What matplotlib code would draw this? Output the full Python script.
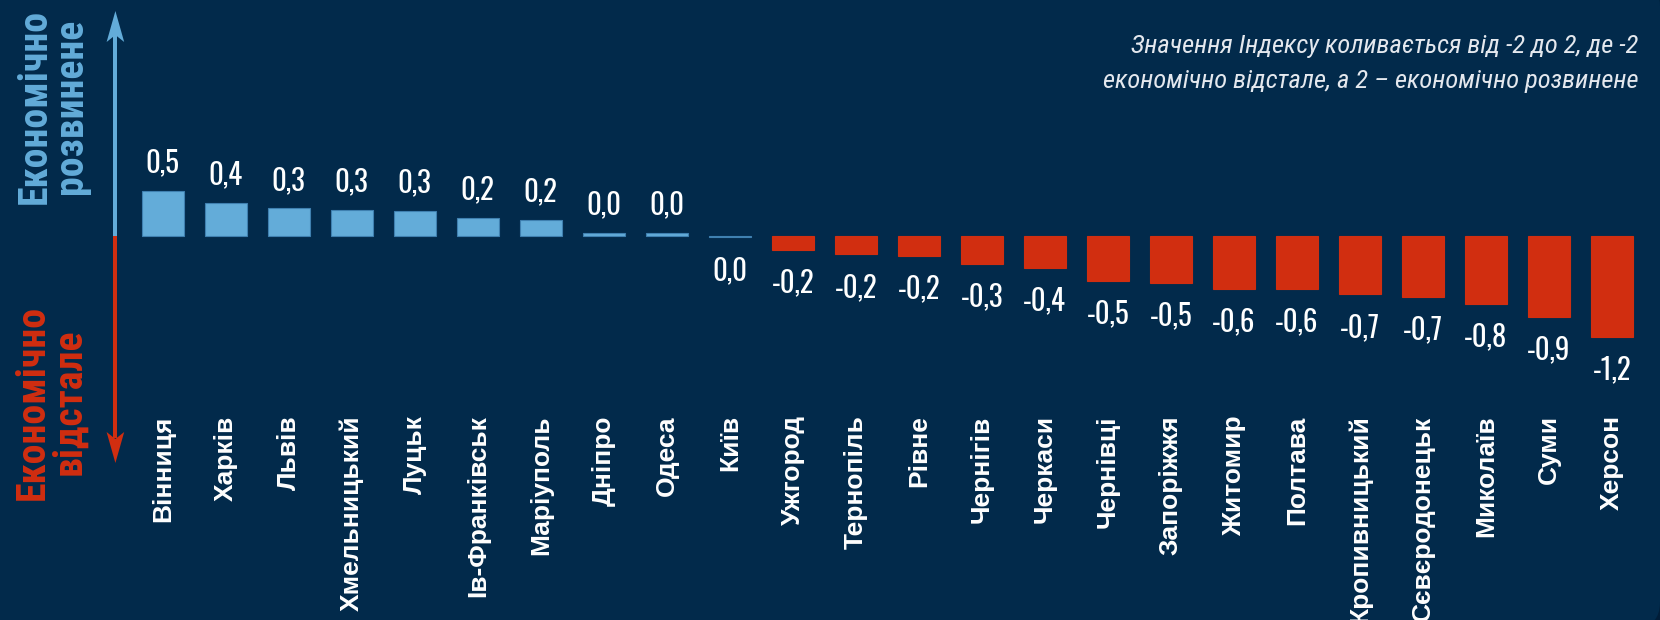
import matplotlib
matplotlib.use("Agg")
import matplotlib.pyplot as plt
from matplotlib import font_manager
from matplotlib.patches import Polygon, Rectangle, FancyBboxPatch

# ---------------- data ----------------
regions = ['Вінниця', 'Харків', 'Львів', 'Хмельницький', 'Луцьк', 'Ів-Франківськ',
           'Маріуполь', 'Дніпро', 'Одеса', 'Київ', 'Ужгород', 'Тернопіль', 'Рівне',
           'Чернігів', 'Черкаси', 'Чернівці', 'Запоріжжя', 'Житомир', 'Полтава',
           'Кропивницький', 'Сєвєродонецьк', 'Миколаїв', 'Суми', 'Херсон']
values = [0.52, 0.38, 0.32, 0.305, 0.29, 0.21, 0.185, 0.04, 0.03, -0.015,
          -0.16, -0.21, -0.23, -0.325, -0.37, -0.52, -0.545, -0.615, -0.615,
          -0.68, -0.705, -0.785, -0.94, -1.17]
note_lines = ['Значення Індексу коливається від -2 до 2, де -2',
              'економічно відстале, а 2 – економічно розвинене']
top_label = 'Економічно\nрозвинене'
bottom_label = 'Економічно\nвідстале'

# ---------------- style ----------------
BG = '#022a4b'
OUTER = '#011d38'
BLUE = '#63acd9'
BLUE_EDGE = '#3f80b0'
RED = '#d12e10'
WHITE = '#ffffff'
NOTE = '#e4e8ee'

names = {f.name for f in font_manager.fontManager.ttflist}


def pick(cands):
    for c in cands:
        if c in names:
            return c
    return 'DejaVu Sans'


VALUE_FONT = pick(['Oswald', 'Bebas Neue', 'Roboto Condensed', 'Fira Sans Extra Condensed',
                   'Fira Sans Condensed'])
SIDE_FONT = pick(['Roboto Condensed', 'PT Sans Narrow', 'Arimo', 'Fira Sans Condensed', 'Oswald'])
NOTE_FONT = pick(['Roboto Condensed', 'PT Sans Narrow', 'Fira Sans Condensed', 'Open Sans'])
SANS = pick(['Liberation Sans', 'Arimo', 'DejaVu Sans'])

W, H = 1660, 620
fig = plt.figure(figsize=(W / 100, H / 100), dpi=100, facecolor=OUTER)
renderer = fig.canvas.get_renderer()


def fit_size(text, family, weight, style, target_px, base=20.0):
    t = fig.text(0, 0, text, fontsize=base, family=family, fontweight=weight, style=style)
    w = t.get_window_extent(renderer=renderer).width
    t.remove()
    return base * target_px / w


# overlay in pixel coordinates (top-left origin), behind the bars
ov = fig.add_axes([0, 0, 1, 1])
ov.set_xlim(0, W)
ov.set_ylim(H, 0)
ov.axis('off')
ov.add_patch(FancyBboxPatch((-60, -20), W + 60, H + 28,
                            boxstyle='round,pad=0,rounding_size=26',
                            facecolor=BG, edgecolor='none'))

# main axes: occupies top 400 px, zero line at 236 px from top, 86 px per unit
ax_top_px, ax_bot_px, zero_px, ppu = 0, 400, 236, 86.0
ax = fig.add_axes([0, 1 - ax_bot_px / H, 1, (ax_bot_px - ax_top_px) / H])
ax.set_facecolor('none')
ax.set_ylim(-(ax_bot_px - zero_px) / ppu, (zero_px - ax_top_px) / ppu)
x0_px, step_px = 162.8, 63.0
ax.set_xlim(-x0_px / step_px, (W - x0_px) / step_px)
for s in ax.spines.values():
    s.set_visible(False)
ax.set_yticks([])

xs = list(range(len(regions)))
colors = [BLUE if v > -0.05 else RED for v in values]
edges = [BLUE_EDGE if v > -0.05 else RED for v in values]
ax.bar(xs, values, width=0.667, color=colors, edgecolor=edges, linewidth=0.8, zorder=3)

ax.set_xticks(xs)
ax.set_xticklabels(regions, rotation=90, fontsize=19, fontweight='bold',
                   family=SANS, color=WHITE)
ax.tick_params(axis='x', length=0, pad=11)

val_size = fit_size('-0,2', VALUE_FONT, 'semibold', 'normal', 43)
for x, v in zip(xs, values):
    r = round(v, 1)
    txt = f"{abs(r):.1f}".replace('.', ',')
    if r < 0:
        txt = '-' + txt
    if v >= 0:
        ax.annotate(txt, (x, v), xytext=(0, 13.5), textcoords='offset points',
                    ha='center', va='baseline', fontsize=val_size, fontweight='semibold',
                    family=VALUE_FONT, color=WHITE)
    else:
        ax.annotate(txt, (x, v), xytext=(0, -13.5), textcoords='offset points',
                    ha='center', va='top', fontsize=val_size, fontweight='semibold',
                    family=VALUE_FONT, color=WHITE)

# double-headed indicator arrow
ax_x = 115.4
lw = 4.0
ov.add_patch(Rectangle((ax_x - lw / 2, 34), lw, zero_px - 34, color=BLUE, lw=0))
ov.add_patch(Rectangle((ax_x - lw / 2, zero_px), lw, 438 - zero_px, color=RED, lw=0))
ov.add_patch(Polygon([(ax_x, 11), (ax_x - 8.8, 42), (ax_x, 35), (ax_x + 8.8, 42)],
                     closed=True, color=BLUE, lw=0))
ov.add_patch(Polygon([(ax_x, 463), (ax_x - 8.8, 432), (ax_x, 439), (ax_x + 8.8, 432)],
                     closed=True, color=RED, lw=0))

side_size = fit_size('Економічно', SIDE_FONT, 'bold', 'normal', 195)
ov.text(53, 106, top_label, rotation=90, ha='center', va='center',
        multialignment='center', fontsize=side_size, fontweight='bold', family=SIDE_FONT,
        color=BLUE, linespacing=0.95)
ov.text(51, 402, bottom_label, rotation=90, ha='center', va='center',
        multialignment='center', fontsize=side_size, fontweight='bold', family=SIDE_FONT,
        color=RED, linespacing=0.95)

note_size = fit_size(note_lines[0], NOTE_FONT, 'normal', 'italic', 507)
ov.text(1638, 53, note_lines[0], ha='right', va='baseline', fontsize=note_size,
        style='italic', family=NOTE_FONT, color=NOTE)
ov.text(1638, 88, note_lines[1], ha='right', va='baseline', fontsize=note_size,
        style='italic', family=NOTE_FONT, color=NOTE)

fig.savefig('out.png', dpi=100, facecolor=OUTER)
